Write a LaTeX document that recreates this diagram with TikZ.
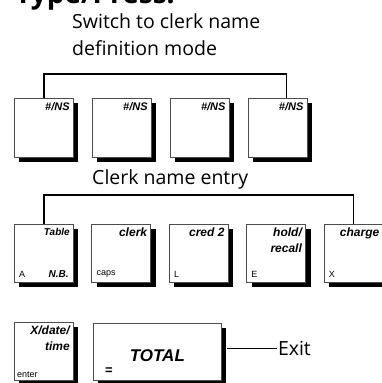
\documentclass[tikz,border=0pt]{standalone}
\usepackage{fontspec}
\setmainfont{Open Sans}
\newfontfamily\keyfont{Liberation Sans}
\usetikzlibrary{positioning, shadows}
\newcommand\keybig{\keyfont\bfseries\itshape\fontsize{12}{16}\selectfont}
\newcommand\keysmall{\keyfont\bfseries\itshape\fontsize{10}{12}\selectfont}
\newcommand\keyplain{\keyfont\fontsize{9}{11}\selectfont}
\tikzset{key/.style={rectangle,draw=black!70,line width=0.9pt,fill=white,minimum width=59pt,minimum height=58pt,inner sep=0pt,drop shadow={shadow xshift=5pt,shadow yshift=-5pt,fill=black,opacity=1}},
keytop/.style={anchor=north east,inner sep=4pt,align=right,font=\keybig},
keylow/.style={anchor=south west,inner sep=5pt,font=\keyplain},
say/.style={inner sep=0pt,align=left,font=\fontsize{19.5}{27}\selectfont},
line/.style={line width=1.6pt}}

\begin{document}
\begin{tikzpicture}[x=1pt,y=-1pt]
\useasboundingbox (0,0) rectangle (382,383);
\node[say, anchor=base west, font=\bfseries\fontsize{28}{30}\selectfont] (head) at (15,3) {Type/Press:};
\node[say, anchor=base west] (switch) at (72,55) {Switch to clerk name\\definition mode};
% first row
\node[key, minimum height=59pt, anchor=north west, label={[keytop, font=\keysmall\fontsize{11}{12}\selectfont]north east:\#/NS}] (ns1) at (14,98) {};
\node[key, minimum height=59pt, right=18pt of ns1, label={[keytop, font=\keysmall\fontsize{11}{12}\selectfont]north east:\#/NS}] (ns2) {};
\node[key, minimum height=59pt, right=18pt of ns2, label={[keytop, font=\keysmall\fontsize{11}{12}\selectfont]north east:\#/NS}] (ns3) {};
\node[key, minimum height=59pt, right=18pt of ns3, label={[keytop, font=\keysmall\fontsize{11}{12}\selectfont]north east:\#/NS}] (ns4) {};
\draw[line] (ns1.north) -- ++(0,-24) -| ([xshift=9pt]ns4.north);
\node[say, anchor=base west] (entry) at (92,184) {Clerk name entry};
% second row
\node[key, anchor=north west, label={[keytop, font=\keysmall]north east:Table}, label={[keylow]south west:A}, label={[keylow, anchor=south east, font=\keysmall]south east:N.B.}] (tbl) at (14,224) {};
\node[key, right=17.5pt of tbl, label={[keytop]north east:clerk}, label={[keylow]south west:caps}] (clk) {};
\node[key, right=17.5pt of clk, label={[keytop]north east:cred 2}, label={[keylow]south west:L}] (crd) {};
\node[key, right=17.5pt of crd, label={[keytop]north east:{hold/\\recall}}, label={[keylow]south west:E}] (hld) {};
\node[key, right=17.5pt of hld, label={[keytop]north east:charge}, label={[keylow]south west:X}] (chg) {};
\draw[line] (tbl.north) -- ++(0,-29) -| (chg.north);
% last row
\node[key, anchor=north west, label={[keytop]north east:{X/date/\\time}}, label={[keylow, inner sep=3pt]south west:enter}] (dt) at (14,322) {};
\node[key, minimum width=128pt, minimum height=57pt, right=19pt of dt, label={[keylow, inner sep=6pt, xshift=6pt, font=\keyfont\bfseries\fontsize{13}{13}\selectfont]south west:=}] (tot) {};
\node[font=\keyfont\bfseries\itshape\fontsize{17}{20}\selectfont, inner sep=0pt, yshift=-4pt] (totl) at (tot) {TOTAL};
\node[say, right=55pt of tot, yshift=3pt, inner sep=1pt] (exit) {Exit};
\draw[line] ([xshift=5pt]tot.east |- exit.west) -- (exit.west);
\end{tikzpicture}
\end{document}
